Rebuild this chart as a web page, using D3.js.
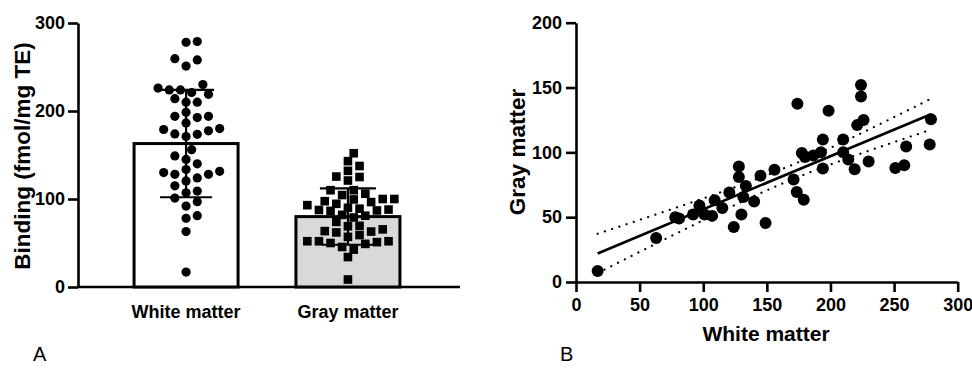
<!DOCTYPE html>
<html>
<head>
<meta charset="utf-8">
<script src="https://cdn.jsdelivr.net/npm/d3@7"></script>
<style>
  body { margin: 0; background: #fff; }
  svg text { font-family: "Liberation Sans", Arial, sans-serif; }
</style>
</head>
<body>
<script>
const whiteMatter = [17, 63, 78, 81, 92, 97, 101, 107, 109, 115, 120.5, 128, 128, 133.5, 131.5, 140,
  130, 124, 149, 145, 156, 171, 173.5, 179, 177.5, 186.5, 224, 224, 198.5, 226, 221, 279,
  278, 259.5, 251, 258, 230, 219, 214, 210, 210, 194, 194, 192.5, 180, 174];
const grayMatter = [8.5, 34, 50, 49, 52, 59, 52, 51, 63, 57, 69, 89, 81, 74, 65.5, 62,
  52, 42.5, 45.5, 82, 86.5, 79, 69.5, 63.5, 99.5, 97.5, 152, 143, 132, 125, 121, 125.5,
  106, 104.5, 88, 90, 93, 87, 94.5, 100, 110, 110, 87.5, 100, 96.5, 137.5];

// Bar chart (panel A)
const categories = ["White matter", "Gray matter"];
const barMeans = [163, 80];
const barSD = [61, 32];
const bindingTicks = [0, 100, 200, 300];

// Scatter (panel B)
const whiteTicks = [0, 50, 100, 150, 200, 250, 300];
const grayTicks = [0, 50, 100, 150, 200];

const W = 972, H = 370;
const svg = d3.select("body").append("svg")
  .attr("width", W)
  .attr("height", H);

function styleAxis(g) {
  g.select(".domain").attr("stroke", "#000").attr("stroke-width", 2.6);
  g.selectAll(".tick line").attr("stroke", "#000").attr("stroke-width", 2.6);
  g.selectAll(".tick text")
    .attr("fill", "#000")
    .style("font-size", "18px")
    .style("font-weight", "bold");
}

// simple greedy beeswarm: returns x offsets
function swarm(values, yScale, d, step) {
  const idx = d3.range(values.length).sort((a, b) => values[a] - values[b]);
  const placed = [];
  const out = new Array(values.length);
  idx.forEach(i => {
    const y = yScale(values[i]);
    for (let k = 0; k < 40; k++) {
      const off = k === 0 ? 0 : (k % 2 ? 1 : -1) * Math.ceil(k / 2) * step;
      const hit = placed.some(p => (p.x - off) ** 2 + (p.y - y) ** 2 < d * d);
      if (!hit) {
        placed.push({x: off, y: y});
        out[i] = off;
        break;
      }
    }
  });
  return out;
}

// ----- Panel A -----
const yL = d3.scaleLinear().domain([0, 300]).range([287, 23]);
const xL = d3.scalePoint().domain(categories).range([76, 458]).padding(0.68);
const barW = 104;

const panelA = svg.append("g");

panelA.append("g")
  .attr("transform", "translate(78,0)")
  .call(d3.axisLeft(yL).tickValues(bindingTicks).tickSize(10).tickSizeOuter(0).tickPadding(3))
  .call(styleAxis);

panelA.append("line")
  .attr("x1", 77).attr("x2", 460)
  .attr("y1", yL(0)).attr("y2", yL(0))
  .attr("stroke", "#000").attr("stroke-width", 2.6);

panelA.selectAll(".bar")
  .data(categories)
  .enter()
  .append("rect")
    .attr("class", "bar")
    .attr("x", d => xL(d) - barW / 2)
    .attr("width", barW)
    .attr("y", (d, i) => yL(barMeans[i]))
    .attr("height", (d, i) => yL(0) - yL(barMeans[i]))
    .attr("fill", (d, i) => i === 0 ? "#fff" : "#d9d9d9")
    .attr("stroke", "#000")
    .attr("stroke-width", 3);

// error bars
categories.forEach((c, i) => {
  const cx = xL(c);
  const top = yL(barMeans[i] + barSD[i]);
  const bot = yL(barMeans[i] - barSD[i]);
  const g = panelA.append("g").attr("stroke", "#000").attr("stroke-width", 2.2);
  g.append("line").attr("x1", cx).attr("x2", cx).attr("y1", top).attr("y2", bot);
  g.append("line").attr("x1", cx - 28).attr("x2", cx + 28).attr("y1", top).attr("y2", top);
  g.append("line").attr("x1", cx - 26).attr("x2", cx + 26).attr("y1", bot).attr("y2", bot);
});

// white matter dots
const offW = swarm(whiteMatter, yL, 9.8, 5.6);
panelA.append("g").selectAll("circle")
  .data(whiteMatter)
  .enter()
  .append("circle")
    .attr("cx", (d, i) => xL(categories[0]) + offW[i])
    .attr("cy", d => yL(d))
    .attr("r", 4.6)
    .attr("fill", "#000");

// gray matter squares
const sq = 8.6;
const offG = swarm(grayMatter, yL, 9, 5.8);
panelA.append("g").selectAll("rect")
  .data(grayMatter)
  .enter()
  .append("rect")
    .attr("x", (d, i) => xL(categories[1]) + offG[i] - sq / 2)
    .attr("y", d => yL(d) - sq / 2)
    .attr("width", sq)
    .attr("height", sq)
    .attr("fill", "#000");

panelA.selectAll(".cat")
  .data(categories)
  .enter()
  .append("text")
    .attr("class", "cat")
    .attr("x", d => xL(d))
    .attr("y", 318)
    .attr("text-anchor", "middle")
    .style("font-size", "18px")
    .style("font-weight", "bold")
    .text(d => d);

panelA.append("text")
  .attr("transform", "translate(30,156) rotate(-90)")
  .attr("text-anchor", "middle")
  .style("font-size", "22.5px")
  .style("font-weight", "bold")
  .text("Binding (fmol/mg TE)");

panelA.append("text")
  .attr("x", 33).attr("y", 361)
  .style("font-size", "20px")
  .text("A");

// ----- Panel B -----
const xR = d3.scaleLinear().domain([0, 300]).range([576, 957.7]);
const yR = d3.scaleLinear().domain([0, 200]).range([282, 22.7]);

const panelB = svg.append("g");

panelB.append("g")
  .attr("transform", "translate(576,0)")
  .call(d3.axisLeft(yR).tickValues(grayTicks).tickSize(10).tickSizeOuter(0).tickPadding(4))
  .call(styleAxis);

panelB.append("g")
  .attr("transform", "translate(0,282)")
  .call(d3.axisBottom(xR).tickValues(whiteTicks).tickSize(10).tickSizeOuter(0).tickPadding(6))
  .call(styleAxis);

// linear regression with 95% confidence band
const n = whiteMatter.length;
const mx = d3.mean(whiteMatter), my = d3.mean(grayMatter);
let sxx = 0, sxy = 0;
whiteMatter.forEach((x, i) => { sxx += (x - mx) ** 2; sxy += (x - mx) * (grayMatter[i] - my); });
const slope = sxy / sxx, icpt = my - slope * mx;
let sse = 0;
whiteMatter.forEach((x, i) => { sse += (grayMatter[i] - (icpt + slope * x)) ** 2; });
const se = Math.sqrt(sse / (n - 2));
const tCrit = 2.015;
const [xMin, xMax] = d3.extent(whiteMatter);
const xs = d3.range(0, 61).map(k => xMin + (xMax - xMin) * k / 60);
const band = s => xs.map(x => [x, icpt + slope * x + s * tCrit * se * Math.sqrt(1 / n + (x - mx) ** 2 / sxx)]);
const line = d3.line().x(d => xR(d[0])).y(d => yR(d[1]));

[1, -1].forEach(s => {
  panelB.append("path")
    .attr("d", line(band(s)))
    .attr("fill", "none")
    .attr("stroke", "#000")
    .attr("stroke-width", 2.2)
    .attr("stroke-linecap", "round")
    .attr("stroke-dasharray", "0.1 7.5");
});

panelB.selectAll(".pt")
  .data(whiteMatter)
  .enter()
  .append("circle")
    .attr("class", "pt")
    .attr("cx", d => xR(d))
    .attr("cy", (d, i) => yR(grayMatter[i]))
    .attr("r", 6)
    .attr("fill", "#000");

panelB.append("path")
  .attr("d", line([[xMin, icpt + slope * xMin], [xMax, icpt + slope * xMax]]))
  .attr("stroke", "#000")
  .attr("stroke-width", 2.6);

panelB.append("text")
  .attr("x", 766).attr("y", 341)
  .attr("text-anchor", "middle")
  .style("font-size", "21px")
  .style("font-weight", "bold")
  .text("White matter");

panelB.append("text")
  .attr("transform", "translate(525,152) rotate(-90)")
  .attr("text-anchor", "middle")
  .style("font-size", "22.5px")
  .style("font-weight", "bold")
  .text("Gray matter");

panelB.append("text")
  .attr("x", 560).attr("y", 361)
  .style("font-size", "20px")
  .text("B");
</script>
</body>
</html>
